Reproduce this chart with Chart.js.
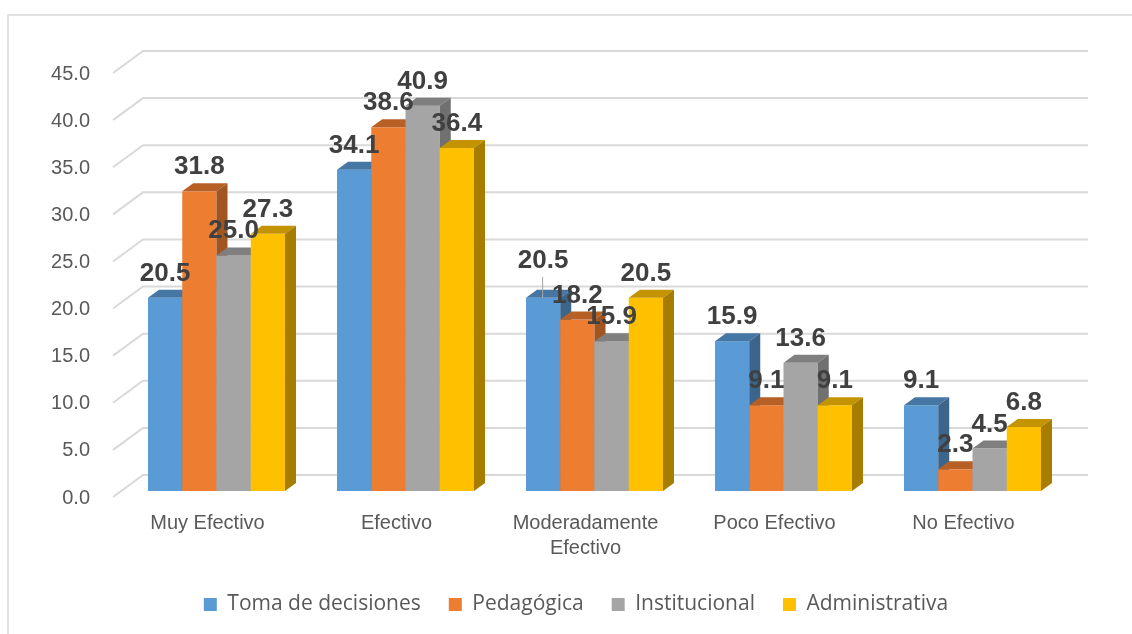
<!DOCTYPE html>
<html><head><meta charset="utf-8">
<script src="https://cdn.jsdelivr.net/npm/chart.js@4/dist/chart.umd.min.js"></script>
<style>html,body{margin:0;padding:0;background:#fff}canvas{display:block}</style>
</head><body>
<canvas id="c" width="1132" height="634"></canvas>
<script>
// ---- data ----
const categories = [['Muy Efectivo'], ['Efectivo'], ['Moderadamente', 'Efectivo'], ['Poco Efectivo'], ['No Efectivo']];
const seriesNames = ['Toma de decisiones', 'Pedagógica', 'Institucional', 'Administrativa'];
const tomaDecisiones = [20.5, 34.1, 20.5, 15.9, 9.1];
const pedagogica     = [31.8, 38.6, 18.2, 9.1, 2.3];
const institucional  = [25.0, 40.9, 15.9, 13.6, 4.5];
const administrativa = [27.3, 36.4, 20.5, 9.1, 6.8];
const yMin = 0, yMax = 45, yStep = 5;

// ---- styles ----
const FRONT = ['#5B9BD5', '#ED7D31', '#A5A5A5', '#FFC000'];
const TOPC  = ['#4677A4', '#B66026', '#7F7F7F', '#C49400'];
const SIDE  = ['#3B658A', '#A15521', '#707070', '#A67D00'];
const DX = 11, DY = -8;           // bar depth projection
const WALL_DX = 21, WALL_DY = -16; // back wall offset from bar front plane
const SLANT_DX = 30, SLANT_DY = 22;

Chart.defaults.font.family = "'Liberation Sans', Arial, sans-serif";

const plugin3d = {
  id: 'bars3d',
  beforeDraw(chart) {
    const ctx = chart.ctx;
    ctx.save();
    ctx.strokeStyle = '#D9D9D9';
    ctx.lineWidth = 1.5;
    ctx.beginPath();
    ctx.moveTo(8, 634); ctx.lineTo(8, 15); ctx.lineTo(1132, 15);
    ctx.stroke();
    ctx.restore();
  },
  beforeDatasetsDraw(chart) {
    const {ctx, chartArea: a, scales: {y}} = chart;
    ctx.save();
    ctx.strokeStyle = '#D9D9D9';
    ctx.lineWidth = 2;
    y.ticks.forEach(t => {
      const yb = y.getPixelForValue(t.value) + WALL_DY;
      const xb = a.left + WALL_DX;
      ctx.beginPath();
      ctx.moveTo(xb - SLANT_DX, yb + SLANT_DY);
      ctx.lineTo(xb, yb);
      ctx.lineTo(a.right + WALL_DX, yb);
      ctx.stroke();
    });
    ctx.restore();
  },
  beforeDatasetDraw() { return false; },
  afterDatasetsDraw(chart) {
    const ctx = chart.ctx;
    const nCat = chart.data.labels.length;
    const nSer = chart.data.datasets.length;
    ctx.save();
    for (let j = 0; j < nCat; j++) {
      for (let i = 0; i < nSer; i++) {
        const el = chart.getDatasetMeta(i).data[j];
        const {x, y, base, width} = el.getProps(['x', 'y', 'base', 'width'], true);
        const L = x - width / 2, R = x + width / 2;
        ctx.fillStyle = FRONT[i];
        ctx.fillRect(L, y, R - L, base - y);
        ctx.fillStyle = TOPC[i];
        ctx.beginPath();
        ctx.moveTo(L, y); ctx.lineTo(R, y); ctx.lineTo(R + DX, y + DY); ctx.lineTo(L + DX, y + DY);
        ctx.closePath(); ctx.fill();
        ctx.fillStyle = SIDE[i];
        ctx.beginPath();
        ctx.moveTo(R, y); ctx.lineTo(R + DX, y + DY); ctx.lineTo(R + DX, base + DY); ctx.lineTo(R, base);
        ctx.closePath(); ctx.fill();
      }
    }
    ctx.font = "bold 26px 'Liberation Sans', Arial, sans-serif";
    ctx.fillStyle = '#404040';
    ctx.textAlign = 'center';
    ctx.textBaseline = 'alphabetic';
    for (let j = 0; j < nCat; j++) {
      for (let i = 0; i < nSer; i++) {
        const el = chart.getDatasetMeta(i).data[j];
        const {x, y} = el.getProps(['x', 'y'], true);
        const v = chart.data.datasets[i].data[j];
        let lift = 0;
        if (i === 0 && j === 2) {
          lift = 13;
          ctx.save();
          ctx.strokeStyle = '#A6A6A6'; ctx.lineWidth = 1;
          ctx.beginPath(); ctx.moveTo(x - 0.5, y - 21); ctx.lineTo(x - 0.5, y); ctx.stroke();
          ctx.restore();
        }
        ctx.fillText(v.toFixed(1), x, y - 17 - lift);
      }
    }
    ctx.restore();
  }
};

const seriesData = [tomaDecisiones, pedagogica, institucional, administrativa];

new Chart(document.getElementById('c'), {
  type: 'bar',
  data: {
    labels: categories,
    datasets: seriesNames.map((name, i) => ({
      label: name,
      data: seriesData[i],
      backgroundColor: FRONT[i],
      borderWidth: 0,
      categoryPercentage: 0.725,
      barPercentage: 1.0
    }))
  },
  options: {
    responsive: false,
    animation: false,
    devicePixelRatio: 1,
    layout: { padding: { left: 20, top: 67, right: 0, bottom: 18 } },
    plugins: {
      tooltip: { enabled: false },
      legend: {
        position: 'bottom',
        maxHeight: 50,
        labels: {
          boxWidth: 13, boxHeight: 13, padding: 28,
          color: '#595959',
          font: { family: "'Open Sans', sans-serif", size: 21 }
        }
      }
    },
    scales: {
      x: {
        grid: { display: false, drawTicks: false },
        border: { display: false },
        ticks: {
          color: '#595959',
          font: { size: 20, lineHeight: 1.25 },
          padding: 20,
          labelOffset: -9,
          maxRotation: 0, autoSkip: false
        },
        afterFit(s) { s.height = 75; }
      },
      y: {
        min: yMin, max: yMax,
        grid: { display: false, drawTicks: false },
        border: { display: false },
        ticks: {
          stepSize: yStep,
          color: '#595959',
          font: { size: 20 },
          padding: 32,
          labelOffset: 7,
          callback: v => Number(v).toFixed(1)
        },
        afterFit(s) { s.width = 102; }
      },
      yRight: {
        position: 'right',
        grid: { display: false, drawTicks: false },
        border: { display: false },
        ticks: { display: false },
        afterFit(s) { s.width = 65; }
      }
    }
  },
  plugins: [plugin3d]
});
</script>
</body></html>
